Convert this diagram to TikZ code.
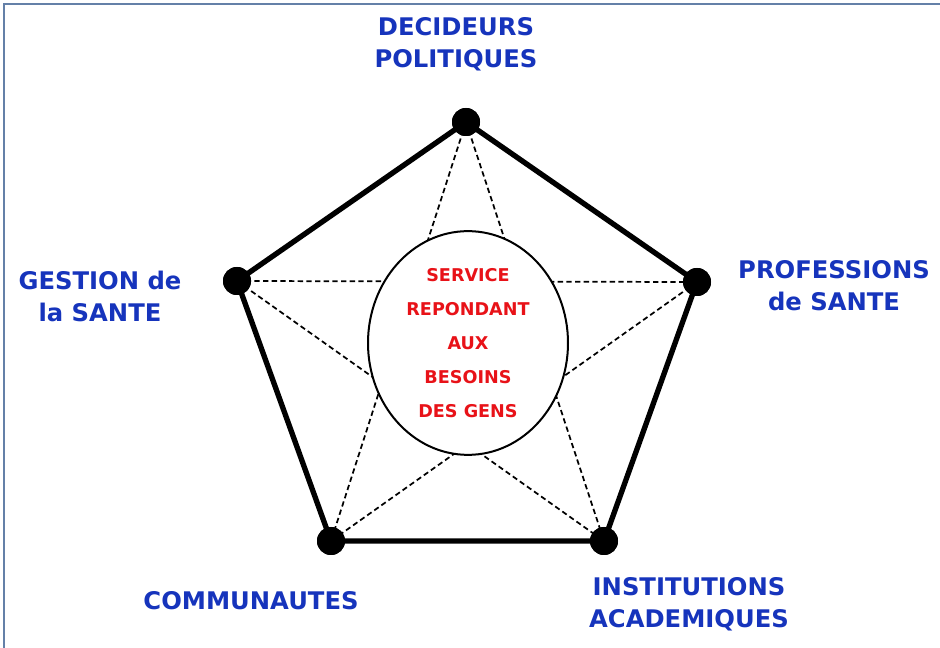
\documentclass[tikz,border=0pt]{standalone}
\usepackage{fontspec}
\setmainfont{DejaVu Sans}
\usepackage{tikz}
\usetikzlibrary{shapes.geometric}

\definecolor{frameblue}{RGB}{100,128,168}
\definecolor{labelblue}{RGB}{22,52,188}
\definecolor{servicered}{RGB}{232,18,24}

\begin{document}
\begin{tikzpicture}[
        x=0.75pt, y=-0.75pt,
        vertex/.style={circle, fill=black, inner sep=0pt, minimum size=21pt},
        actor/.style={align=center, text=labelblue, font=\bfseries\fontsize{18.2}{24}\selectfont},
        link/.style={line width=1.3pt, dash pattern=on 4pt off 2.5pt},
        side/.style={line width=4pt, line cap=round}
    ]
    \useasboundingbox (0,0) rectangle (940,648);
    \draw[frameblue, line width=1.8pt] (4,648) -- (4,4) -- (940,4);

    \node[vertex] (top) at (466,122) {};
    \node[vertex] (right) at (697,282) {};
    \node[vertex] (botright) at (604,541) {};
    \node[vertex] (botleft) at (331,541) {};
    \node[vertex] (left) at (237,281) {};

    \draw[link] (top.center) -- (botleft.center);
    \draw[link] (top.center) -- (botright.center);
    \draw[link] (left.center) -- (right.center);
    \draw[link] (left.center) -- (botright.center);
    \draw[link] (right.center) -- (botleft.center);

    \node[ellipse, draw, fill=white, line width=1.5pt, minimum width=150pt, minimum height=164pt,
          align=center, text=servicered,
          font=\bfseries\fontsize{13.2}{25.5}\selectfont] (service) at (468,343)
        {SERVICE\\REPONDANT\\AUX\\BESOINS\\DES GENS};

    \draw[side] (top.center) -- (right.center) -- (botright.center) -- (botleft.center)
        -- (left.center) -- cycle;
    \foreach \v in {top,right,botright,botleft,left}
        \fill (\v) circle (10.5pt);

    \node[actor] (decideurs) at (456,44) {DECIDEURS\\POLITIQUES};
    \node[actor] (professions) at (834,286) {PROFESSIONS\\de SANTE};
    \node[actor] (gestion) at (100,296) {GESTION de\\la SANTE};
    \node[actor] (communautes) at (251,601) {COMMUNAUTES};
    \node[actor] (institutions) at (689,604) {INSTITUTIONS\\ACADEMIQUES};
\end{tikzpicture}
\end{document}
